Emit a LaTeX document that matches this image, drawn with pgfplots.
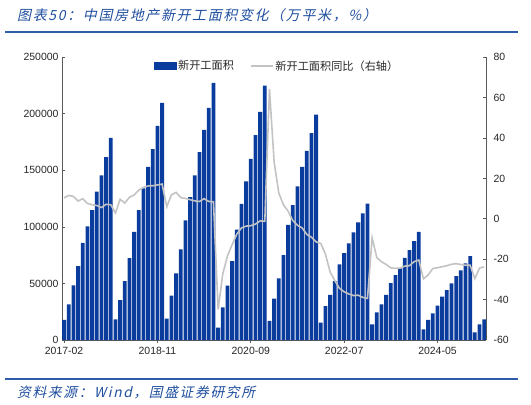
\documentclass[border=0pt]{standalone}
\usepackage{pgfplots}
\pgfplotsset{compat=1.18}
\usepackage{fontspec}
\setmainfont{Liberation Sans}
\newfontfamily\cjk{Noto Sans CJK SC}
\newfontfamily\cjkit[FakeSlant=0.22,LetterSpace=12]{Noto Sans CJK SC}
\definecolor{barblue}{HTML}{0A3C9E}
\definecolor{linegray}{HTML}{C3C3C3}
\definecolor{titleblue}{HTML}{1F4E9F}
\definecolor{rule}{HTML}{2E5CA8}
\definecolor{axgray}{HTML}{595959}
\definecolor{txt}{HTML}{262626}
\begin{document}
\begin{tikzpicture}[x=1bp,y=1bp]
\useasboundingbox (0,0) rectangle (531,404);
\node[anchor=west,inner sep=0pt,text=titleblue,font=\fontsize{14}{16}\cjkit] at (17,389) {图表50：中国房地产新开工面积变化（万平米，\%）};
\draw[rule,line width=1.5bp] (5,372) -- (518,372);
\draw[rule,line width=1.3bp] (5,25) -- (518,25);
\node[anchor=west,inner sep=0pt,text=titleblue,font=\fontsize{13.8}{15}\cjkit] at (17,12) {资料来源：Wind，国盛证券研究所};
\begin{axis}[
  at={(62bp,64bp)}, anchor=south west,
  scale only axis, width=424bp, height=282.7bp,
  xmin=-0.45, xmax=90.4, ymin=0, ymax=250000,
  axis x line*=bottom, axis y line*=left,
  axis line style={axgray, line width=0.8bp},
  tick style={axgray, line width=0.8bp},
  tick align=inside, major tick length=3bp,
  xtick={0,20,40,60,80},
  xticklabels={2017-02,2018-11,2020-09,2022-07,2024-05},
  ytick={0,50000,100000,150000,200000,250000},
  scaled y ticks=false,
  yticklabel style={/pgf/number format/fixed,/pgf/number format/1000 sep={}},
  /pgf/number format/assume math mode=true,
  tick label style={font=\fontsize{10.5}{12}\selectfont, text=txt},
  xticklabel style={yshift=-1bp},
  ybar, bar width=3.8bp,
]
\addplot[fill=barblue, draw=none] coordinates {
(0,17700)(1,31500)(2,48300)(3,65400)(4,86000)(5,100400)(6,114800)(7,131300)(8,145500)(9,161700)(10,178700)
(11,18300)(12,35300)(13,52100)(14,72400)(15,95700)(16,114800)(17,134000)(18,153100)(19,168700)(20,189300)(21,209600)
(22,18800)(23,39200)(24,58900)(25,80100)(26,105700)(27,126300)(28,145500)(29,166100)(30,185800)(31,205300)(32,227300)
(33,10900)(34,28900)(35,48000)(36,69800)(37,97500)(38,120400)(39,140200)(40,160200)(41,181100)(42,201700)(43,225000)
(44,17000)(45,36500)(46,54500)(47,75100)(48,101900)(49,119300)(50,135800)(51,153100)(52,167200)(53,182900)(54,199400)
(55,15300)(56,30000)(57,39800)(58,52100)(59,66900)(60,76900)(61,85400)(62,95100)(63,104000)(64,111900)(65,120700)
(66,13900)(67,24400)(68,31500)(69,39800)(70,50400)(71,57400)(72,63300)(73,72700)(74,79500)(75,87500)(76,95700)
(77,9400)(78,17700)(79,23500)(80,30300)(81,38300)(82,44200)(83,50000)(84,56500)(85,61500)(86,67700)(87,74200)
(88,6800)(89,13900)(90,18300)
};
\end{axis}
\begin{axis}[
  at={(62bp,64bp)}, anchor=south west,
  scale only axis, width=424bp, height=282.7bp,
  xmin=-0.45, xmax=90.4, ymin=-60, ymax=80,
  axis x line=none, axis y line*=right,
  axis line style={axgray, line width=0.8bp},
  tick style={axgray, line width=0.8bp},
  tick align=inside, major tick length=3bp,
  ytick={-60,-40,-20,0,20,40,60,80},
  /pgf/number format/assume math mode=true,
  tick label style={font=\fontsize{10.5}{12}\selectfont, text=txt},
  yticklabel style={xshift=4bp},
  legend style={at={(0.507,1.0)}, anchor=north, draw=none, fill=none,
    font=\fontsize{11.2}{12}\cjk, text=txt, legend columns=2,
    /tikz/every even column/.append style={column sep=14bp},
    inner sep=1bp, row sep=0pt},
  legend cell align=left,
]
\addlegendimage{legend image code/.code={\fill[barblue] (0bp,-3.5bp) rectangle (22bp,3.5bp);}}
\addlegendentry{新开工面积}
\addplot[linegray, line width=1.6bp, mark=none, legend image code/.code={\draw[linegray,line width=1.6bp] (0bp,0bp) -- (22bp,0bp);}] coordinates {
(0,10.4)(1,11.6)(2,11.1)(3,8.8)(4,10.0)(5,7.6)(6,7.0)(7,6.6)(8,5.6)(9,7.2)(10,7.0)
(11,2.9)(12,9.7)(13,7.8)(14,10.7)(15,11.8)(16,14.2)(17,15.6)(18,16.3)(19,16.4)(20,16.8)(21,17.2)
(22,6.0)(23,11.9)(24,13.1)(25,10.5)(26,10.1)(27,9.5)(28,8.9)(29,8.6)(30,10.0)(31,8.6)(32,8.5)
(33,-44.9)(34,-27.2)(35,-18.4)(36,-12.8)(37,-7.6)(38,-4.5)(39,-3.6)(40,-3.4)(41,-2.6)(42,-1.0)(43,-1.2)
(44,64.3)(45,28.2)(46,12.8)(47,6.9)(48,3.8)(49,-0.9)(50,-3.2)(51,-4.5)(52,-7.7)(53,-9.1)(54,-11.4)
(55,-12.2)(56,-17.5)(57,-26.3)(58,-30.6)(59,-34.4)(60,-36.1)(61,-37.2)(62,-38.0)(63,-37.8)(64,-38.9)(65,-39.4)
(66,-9.4)(67,-19.2)(68,-21.2)(69,-22.6)(70,-24.3)(71,-24.5)(72,-24.4)(73,-23.4)(74,-23.2)(75,-21.2)(76,-20.4)
(77,-29.7)(78,-27.8)(79,-24.6)(80,-24.2)(81,-23.7)(82,-23.2)(83,-22.5)(84,-22.2)(85,-22.6)(86,-23.0)(87,-23.0)
(88,-29.6)(89,-24.4)(90,-23.8)
};
\addlegendentry{新开工面积同比（右轴）}
\end{axis}
\end{tikzpicture}
\end{document}
